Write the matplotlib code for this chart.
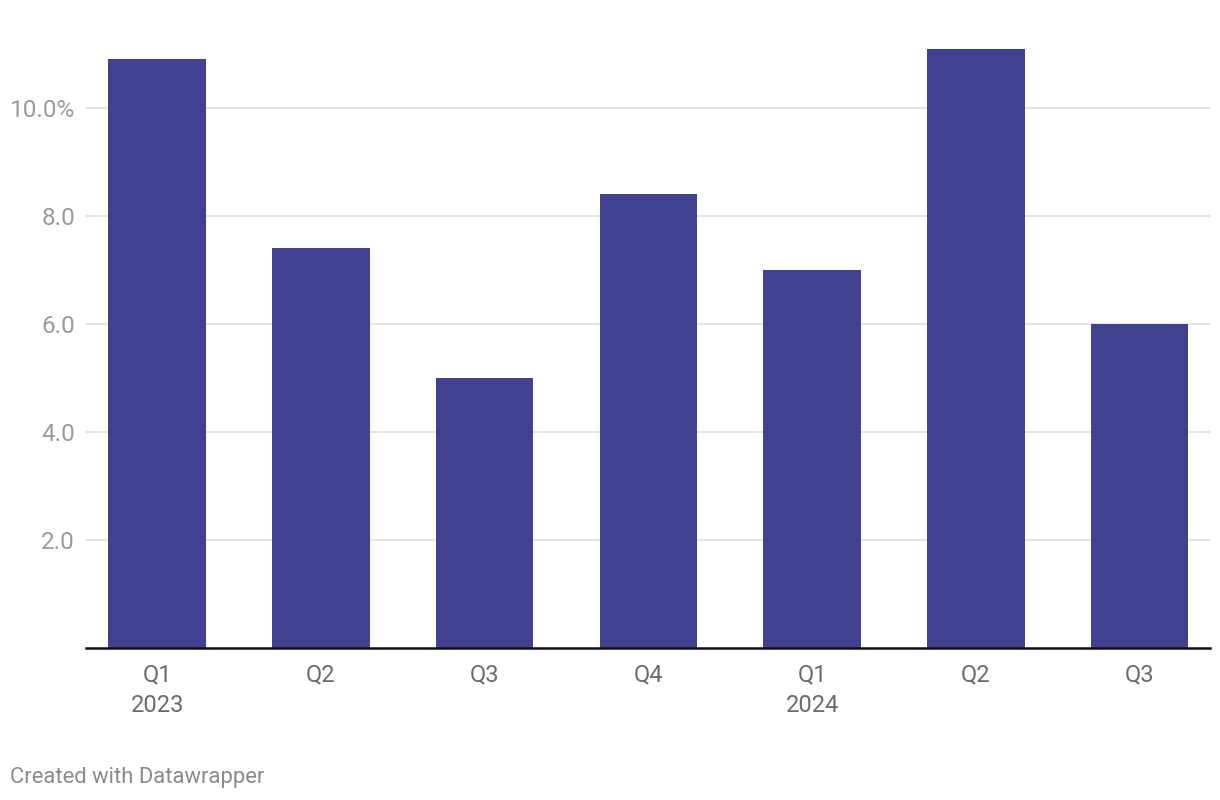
import matplotlib
matplotlib.use("Agg")
import matplotlib.pyplot as plt

categories = ["Q1\n2023", "Q2", "Q3", "Q4", "Q1\n2024", "Q2", "Q3"]
values = [10.9, 7.4, 5.0, 8.4, 7.0, 11.1, 6.0]
yticks = [2, 4, 6, 8, 10]
ytick_labels = ["2.0", "4.0", "6.0", "8.0", "10.0%"]

plt.rcParams['font.family'] = ['Roboto', 'DejaVu Sans']

fig = plt.figure(figsize=(12.2, 8), dpi=100)
ax = fig.add_axes([86/1220, 152/800, (1210-86)/1220, 648/800])

x = list(range(len(categories)))
ax.bar(x, values, width=0.595, color="#404190", zorder=3)

ax.set_xlim(-0.434, 6.43)
ax.set_ylim(0, 12)
ax.set_yticks(yticks)
ax.set_yticklabels(ytick_labels)
for t in yticks:
    ax.axhline(t, color="#e0e0e0", linewidth=1.2, zorder=1)

ax.set_xticks(x)
ax.set_xticklabels(categories, linespacing=1.45)
ax.tick_params(axis="x", length=0, pad=11, labelsize=17, labelcolor="#6b6b6b")
ax.tick_params(axis="y", length=0, pad=8, labelsize=17.5, labelcolor="#9a9a9a")

for s in ["top", "right", "left"]:
    ax.spines[s].set_visible(False)
ax.spines["bottom"].set_color("#111111")
ax.spines["bottom"].set_linewidth(1.8)
ax.spines["bottom"].set_zorder(4)

fig.text(10/1220, 1 - 778/800, "Created with Datawrapper", fontsize=15.8,
         color="#8a8a8a", va="center", ha="left")

fig.savefig("out.png", dpi=100)
